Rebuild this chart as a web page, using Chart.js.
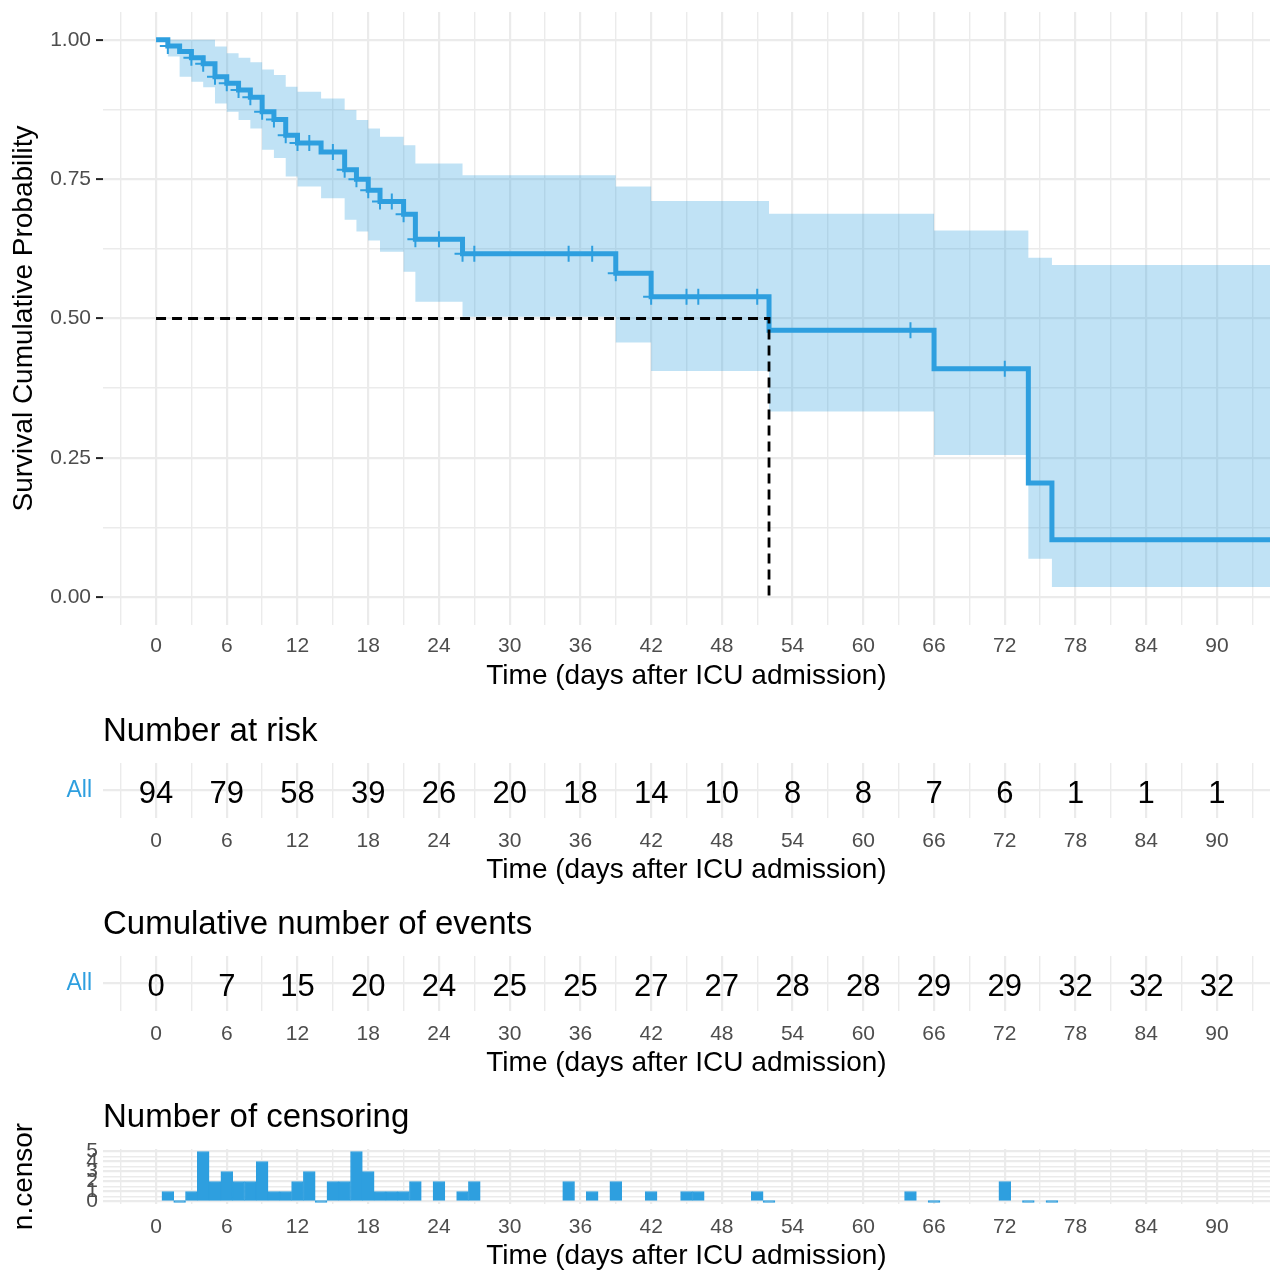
<!DOCTYPE html>
<html>
<head>
<meta charset="utf-8">
<script src="https://cdn.jsdelivr.net/npm/chart.js@4.4.1/dist/chart.umd.min.js"></script>
<style>
  html, body { margin: 0; padding: 0; background: #fff; overflow: hidden; }
  #wrap { position: relative; width: 1270px; height: 1273px; }
  canvas { position: absolute; left: 0; }
</style>
</head>
<body>
<div id="wrap">
  <canvas id="survChart" width="1270" height="700" style="top:0"></canvas>
  <canvas id="riskChart" width="1270" height="193" style="top:700px"></canvas>
  <canvas id="eventChart" width="1270" height="193" style="top:893px"></canvas>
  <canvas id="censorChart" width="1270" height="193" style="top:1086px"></canvas>
</div>
<script>
// Kaplan-Meier estimate (value after each step) and its confidence band
const survTimes = [0, 1, 2, 3, 4, 5, 6, 7, 8, 9, 10, 11, 12, 14, 16, 17, 18, 19, 21, 22, 26, 39, 42, 52, 66, 74, 76, 96];
const survProb  = [1.000, 0.989, 0.979, 0.968, 0.957, 0.934, 0.922, 0.910, 0.897, 0.871, 0.857, 0.829, 0.815, 0.799, 0.767, 0.750, 0.730, 0.710, 0.687, 0.642, 0.616, 0.581, 0.539, 0.479, 0.410, 0.205, 0.103, 0.103];
const ciLower   = [1.000, 0.970, 0.934, 0.925, 0.915, 0.886, 0.871, 0.856, 0.841, 0.803, 0.788, 0.755, 0.737, 0.716, 0.677, 0.656, 0.640, 0.620, 0.584, 0.530, 0.503, 0.457, 0.406, 0.333, 0.255, 0.069, 0.018, 0.018];
const ciUpper   = [1.000, 1.000, 1.000, 1.000, 1.000, 0.988, 0.976, 0.968, 0.960, 0.947, 0.937, 0.916, 0.907, 0.895, 0.874, 0.856, 0.841, 0.826, 0.811, 0.778, 0.757, 0.737, 0.711, 0.688, 0.658, 0.609, 0.596, 0.596];

// censoring per day (0 = event time without censoring)
const censorTimes = [1, 2, 3, 4, 5, 6, 7, 8, 9, 10, 11, 12, 13, 14, 15, 16, 17, 18, 19, 20, 21, 22, 24, 26, 27, 35, 37, 39, 42, 45, 46, 51, 52, 64, 66, 72, 74, 76];
const nCensor     = [1, 0, 1, 5, 2, 3, 2, 2, 4, 1, 1, 2, 3, 0, 2, 2, 5, 3, 1, 1, 1, 2, 2, 1, 2, 2, 1, 2, 1, 1, 1, 1, 0, 1, 0, 2, 0, 0];

const medianTime = 52;
const medianProb = 0.5;

// tables
const tableTimes = [0, 6, 12, 18, 24, 30, 36, 42, 48, 54, 60, 66, 72, 78, 84, 90];
const nRisk      = [94, 79, 58, 39, 26, 20, 18, 14, 10, 8, 8, 7, 6, 1, 1, 1];
const cumEvents  = [0, 7, 15, 20, 24, 25, 25, 27, 27, 28, 28, 29, 29, 32, 32, 32];

// axis breaks
const xGrid = [-3, 0, 3, 6, 9, 12, 15, 18, 21, 24, 27, 30, 33, 36, 39, 42, 45, 48, 51, 54, 57, 60, 63, 66, 69, 72, 75, 78, 81, 84, 87, 90, 93];
const xLabels = [0, 6, 12, 18, 24, 30, 36, 42, 48, 54, 60, 66, 72, 78, 84, 90];
const yGrid = [0, 0.125, 0.25, 0.375, 0.5, 0.625, 0.75, 0.875, 1];
const yLabels = [0, 0.25, 0.5, 0.75, 1];
const censorGrid = [0, 0.5, 1, 1.5, 2, 2.5, 3, 3.5, 4, 4.5, 5];
const censorLabels = [0, 1, 2, 3, 4, 5];

const FONT = "'Liberation Sans', Arial, sans-serif";
const BLUE = '#2E9FDF';
const BAND = 'rgba(46,159,223,0.3)';
const GRID = '#EBEBEB';
const GREY = '#4D4D4D';
const tickFont = { family: FONT, size: 21 };
const titleFont = { family: FONT, size: 28 };

Chart.defaults.font.family = FONT;

const points = (xs, ys) => xs.map((x, i) => ({ x, y: ys[i] }));
const survAt = t => {
  let i = 0;
  while (i + 1 < survTimes.length && survTimes[i + 1] <= t) i++;
  return survProb[i];
};

const baseOptions = {
  responsive: false,
  animation: false,
  devicePixelRatio: 1,
  events: [],
};

function timeAxis(labelPad, titlePad) {
  return {
    type: 'linear',
    min: -4.5,
    max: 94.5,
    bounds: 'data',
    offset: false,
    afterBuildTicks: s => { s.ticks = xGrid.map(v => ({ value: v })); },
    afterFit: s => { s.height = 75; s.paddingLeft = 0; s.paddingRight = 0; },
    ticks: {
      autoSkip: false,
      maxRotation: 0,
      padding: labelPad,
      color: GREY,
      font: tickFont,
      callback: v => (xLabels.includes(v) ? String(v) : ''),
    },
    grid: {
      color: GRID,
      lineWidth: c => (c.tick && xLabels.includes(c.tick.value) ? 2.2 : 1.4),
      drawTicks: false,
      offset: false,
    },
    border: { display: false },
    title: {
      display: true,
      text: 'Time (days after ICU admission)',
      color: '#000',
      font: titleFont,
      padding: { top: 0, bottom: titlePad },
    },
  };
}

// main survival plot
new Chart(document.getElementById('survChart'), {
  type: 'line',
  data: {
    datasets: [
      {
        data: points(survTimes, ciUpper),
        stepped: 'before',
        borderWidth: 0,
        pointRadius: 0,
        backgroundColor: BAND,
        fill: 1,
        order: 5,
      },
      {
        data: points(survTimes, ciLower),
        stepped: 'before',
        borderWidth: 0,
        pointRadius: 0,
        fill: false,
        order: 4,
      },
      {
        data: points(survTimes, survProb),
        stepped: 'before',
        borderColor: BLUE,
        borderWidth: 5,
        borderJoinStyle: 'miter',
        pointRadius: 0,
        fill: false,
        order: 3,
      },
      {
        data: censorTimes.filter((t, i) => nCensor[i] > 0).map(t => ({ x: t, y: survAt(t) })),
        showLine: false,
        pointStyle: 'cross',
        pointRadius: 8,
        pointBorderWidth: 2,
        borderColor: BLUE,
        order: 2,
      },
      {
        data: [
          { x: 0, y: medianProb },
          { x: medianTime, y: medianProb },
          { x: medianTime, y: 0 },
        ],
        borderColor: '#000',
        borderWidth: 2.8,
        borderDash: [10, 6],
        pointRadius: 0,
        fill: false,
        order: 1,
      },
    ],
  },
  options: {
    ...baseOptions,
    layout: { autoPadding: false, padding: { top: 12, right: 0, bottom: 0, left: 0 } },
    plugins: { legend: { display: false }, tooltip: { enabled: false } },
    scales: {
      x: timeAxis(9, 7),
      y: {
        type: 'linear',
        min: -0.05,
        max: 1.05,
        bounds: 'data',
        afterBuildTicks: s => { s.ticks = yGrid.map(v => ({ value: v })); },
        afterFit: s => { s.width = 103; s.paddingTop = 0; s.paddingBottom = 0; },
        ticks: {
          autoSkip: false,
          padding: 5,
          color: GREY,
          font: tickFont,
          callback: v => (yLabels.includes(v) ? v.toFixed(2) : ''),
        },
        grid: {
          color: GRID,
          lineWidth: c => (c.tick && yLabels.includes(c.tick.value) ? 2.2 : 1.4),
          drawTicks: true,
          tickLength: 7,
          tickWidth: 2,
          tickColor: c => (c.tick && yLabels.includes(c.tick.value) ? '#222' : 'rgba(0,0,0,0)'),
        },
        border: { display: false },
        title: {
          display: true,
          text: 'Survival Cumulative Probability',
          color: '#000',
          font: titleFont,
          padding: { top: 7, bottom: 0 },
        },
      },
    },
  },
});

// numbers written in the table rows
const tableText = {
  id: 'tableText',
  afterDatasetsDraw(chart) {
    const ds = chart.data.datasets[0];
    const meta = chart.getDatasetMeta(0);
    const { ctx } = chart;
    ctx.save();
    ctx.font = `31px ${FONT}`;
    ctx.fillStyle = '#000';
    ctx.textAlign = 'center';
    ctx.textBaseline = 'alphabetic';
    meta.data.forEach((pt, i) => ctx.fillText(String(ds.counts[i]), pt.x, pt.y + 12));
    ctx.restore();
  },
};

const panelTitle = text => ({
  display: true,
  text,
  align: 'start',
  fullSize: false,
  color: '#000',
  font: { family: FONT, size: 33, weight: 'normal' },
  padding: { top: 12, bottom: 11.4 },
});

function tableChart(id, title, counts) {
  return new Chart(document.getElementById(id), {
    type: 'scatter',
    data: {
      datasets: [{
        data: tableTimes.map(t => ({ x: t, y: 1 })),
        counts,
        pointRadius: 0,
      }],
    },
    plugins: [tableText],
    options: {
      ...baseOptions,
      layout: { autoPadding: false },
      plugins: { legend: { display: false }, tooltip: { enabled: false }, title: panelTitle(title) },
      scales: {
        x: timeAxis(11, 6),
        y: {
          type: 'linear',
          min: 0.4,
          max: 1.6,
          bounds: 'data',
          afterBuildTicks: s => { s.ticks = [{ value: 1 }]; },
          afterFit: s => { s.width = 103; s.paddingTop = 0; s.paddingBottom = 0; },
          ticks: { autoSkip: false, padding: 11, color: BLUE, font: { family: FONT, size: 23 }, callback: () => 'All' },
          grid: { color: GRID, lineWidth: 2.2, drawTicks: false },
          border: { display: false },
        },
      },
    },
  });
}

tableChart('riskChart', 'Number at risk', nRisk);
tableChart('eventChart', 'Cumulative number of events', cumEvents);

// censoring counts
new Chart(document.getElementById('censorChart'), {
  type: 'bar',
  data: {
    datasets: [{
      data: points(censorTimes, nCensor),
      backgroundColor: BLUE,
      borderColor: BLUE,
      borderWidth: 1,
      borderSkipped: false,
      minBarLength: 2,
      categoryPercentage: 1,
      barPercentage: 1,
    }],
  },
  options: {
    ...baseOptions,
    layout: { autoPadding: false },
    plugins: { legend: { display: false }, tooltip: { enabled: false }, title: panelTitle('Number of censoring') },
    scales: {
      x: timeAxis(11, 6),
      y: {
        type: 'linear',
        min: -0.25,
        max: 5.25,
        bounds: 'data',
        afterBuildTicks: s => { s.ticks = censorGrid.map(v => ({ value: v })); },
        afterFit: s => { s.width = 103; s.paddingTop = 0; s.paddingBottom = 0; },
        ticks: {
          autoSkip: false,
          padding: 5,
          color: GREY,
          font: tickFont,
          callback: v => (censorLabels.includes(v) ? String(v) : ''),
        },
        grid: {
          color: GRID,
          lineWidth: c => (c.tick && censorLabels.includes(c.tick.value) ? 2.2 : 1.4),
          drawTicks: false,
        },
        border: { display: false },
        title: {
          display: true,
          text: 'n.censor',
          color: '#000',
          font: titleFont,
          padding: { top: 7, bottom: 0 },
        },
      },
    },
  },
});
</script>
</body>
</html>
